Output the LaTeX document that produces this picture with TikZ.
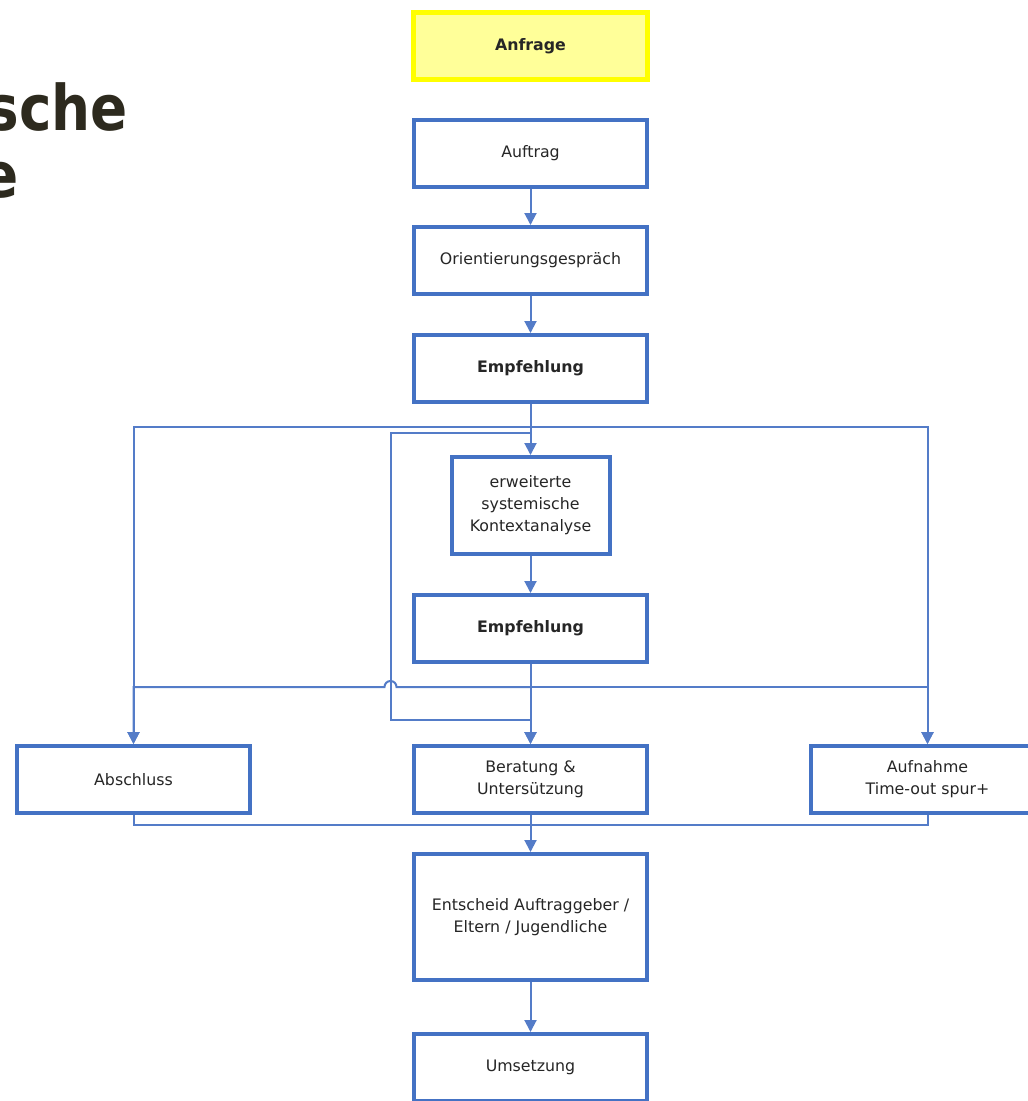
\documentclass[tikz,border=0pt]{standalone}
\usepackage{fontspec}
\setmainfont{DejaVu Sans}
\usetikzlibrary{positioning,calc,arrows.meta}
\definecolor{boxblue}{RGB}{68,114,196}
\definecolor{linkblue}{RGB}{84,124,200}
\definecolor{askfill}{RGB}{255,255,153}
\definecolor{askline}{RGB}{255,255,0}
\definecolor{titlegray}{RGB}{45,42,30}

\begin{document}
\begin{tikzpicture}[x=1pt,y=1pt,
    stepbox/.style={draw=boxblue, line width=4pt, fill=white,
      minimum width=233pt, minimum height=67pt, align=center,
      font=\fontsize{15.8}{22}\selectfont, text=black!85},
    askbox/.style={stepbox, draw=askline, fill=askfill, line width=5pt,
      minimum width=234pt, font=\fontsize{15.8}{22}\selectfont\bfseries},
    keybox/.style={stepbox, font=\fontsize{15.8}{22}\selectfont\bfseries},
    titletext/.style={anchor=base east, inner sep=0pt, text=titlegray,
      font=\fontsize{63}{67}\selectfont\bfseries, xscale=0.87, transform shape},
    link/.style={draw=linkblue, line width=2pt},
    arr/.style={link, -{Triangle[width=12pt,length=12pt]}}
  ]

  \useasboundingbox (0,0) rectangle (1028,-1101);

  % title (cut off at the left)
  \node (title1) [titletext] at (128,-130) {sche};
  \node (title2) [titletext] at (19,-197) {e};

  % main column
  \node (anfrage) [askbox] at (530.5,-46) {Anfrage};
  \node (auftrag) [stepbox, below=36pt of anfrage] {Auftrag};
  \node (orient) [stepbox, below=36pt of auftrag] {Orientierungsgespräch};
  \node (empf1) [keybox, below=37pt of orient] {Empfehlung};
  \node (kontext) [stepbox, below=51pt of empf1, minimum width=158pt, minimum height=97pt]
    {erweiterte\\systemische\\Kontextanalyse};
  \node (empf2) [keybox, below=37pt of kontext] {Empfehlung};
  \node (beratung) [stepbox, below=80pt of empf2] {Beratung \&\\Untersützung};
  \node (abschluss) [stepbox, left=160pt of beratung] {Abschluss};
  \node (aufnahme) [stepbox, right=160pt of beratung] {Aufnahme\\Time-out spur+};
  \node (entscheid) [stepbox, below=37pt of beratung, minimum height=126pt]
    {Entscheid Auftraggeber /\\Eltern / Jugendliche};
  \node (umsetzung) [stepbox, below=50pt of entscheid] {Umsetzung};

  \draw [arr] (auftrag) -- (orient);
  \draw [arr] (orient) -- (empf1);

  % first recommendation
  \coordinate (split1) at ($(empf1.south)+(0,-23)$);
  \coordinate (split2) at ($(empf1.south)+(0,-29)$);
  \coordinate (loopL) at ($(split2)+(-140,0)$);
  \draw [link] (empf1.south) -- (split2);
  \draw [arr] (split1) -| (abschluss.north);
  \draw [arr] (split1) -| (aufnahme.north);
  \draw [arr] (split2) -- (kontext.north);
  \draw [arr] (split2) -- (loopL) |- ($(beratung.north)+(0,24)$) -- (beratung.north);

  \draw [arr] (kontext) -- (empf2);

  % second recommendation
  \coordinate (split3) at ($(empf2.south)+(0,-23)$);
  \draw [arr] (empf2.south) -- (beratung.north);
  \draw [arr] (split3) -- ($(loopL |- split3)+(6,0)$)
    arc[start angle=0, end angle=180, radius=6] -| (abschluss.north);
  \draw [arr] (split3) -| (aufnahme.north);

  % merge
  \coordinate (merge) at ($(beratung.south)+(0,-10)$);
  \draw [link] (abschluss.south) |- (merge) -| (aufnahme.south);
  \draw [arr] (beratung.south) -- (entscheid.north);
  \draw [arr] (entscheid) -- (umsetzung);

\end{tikzpicture}
\end{document}
